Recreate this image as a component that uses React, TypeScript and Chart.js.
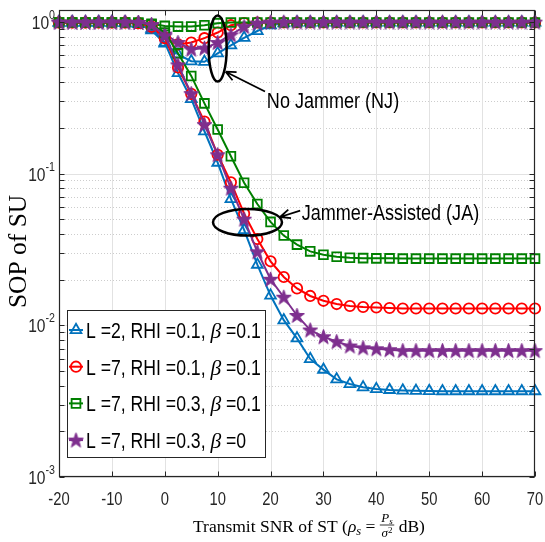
import React, { useEffect, useRef } from 'react';
import { Chart, registerables } from 'chart.js';
import { drawPoint } from 'chart.js/helpers';

Chart.register(...registerables);

// ---------------- data ----------------
const snrDb = [-20, -17.5, -15, -12.5, -10, -7.5, -5, -2.5, 0, 2.5, 5, 7.5, 10, 12.5, 15, 17.5, 20, 22.5, 25, 27.5, 30, 32.5, 35, 37.5, 40, 42.5, 45, 47.5, 50, 52.5, 55, 57.5, 60, 62.5, 65, 67.5, 70];

// Jammer-Assisted (JA)
const jaL2R01B01 = [0.99, 0.99, 0.99, 0.99, 0.99, 0.985, 0.97, 0.90, 0.73, 0.46, 0.31, 0.19, 0.118, 0.068, 0.0425, 0.0251, 0.0157, 0.0108, 0.0082, 0.0060, 0.0051, 0.0044, 0.0041, 0.0039, 0.0038, 0.00375, 0.00372, 0.0037, 0.00369, 0.00368, 0.00368, 0.00368, 0.00368, 0.00368, 0.00368, 0.00368, 0.00368];
const jaL7R01B01 = [0.99, 0.99, 0.99, 0.99, 0.99, 0.99, 0.98, 0.93, 0.78, 0.50, 0.335, 0.22, 0.133, 0.0875, 0.0544, 0.037, 0.0264, 0.0208, 0.0175, 0.0156, 0.0145, 0.0138, 0.0134, 0.0132, 0.0131, 0.0130, 0.0129, 0.0129, 0.0129, 0.0129, 0.0129, 0.0129, 0.0129, 0.0129, 0.0129, 0.0129, 0.0129];
const jaL7R03B01 = [0.99, 0.99, 0.99, 0.99, 0.99, 0.99, 0.985, 0.96, 0.85, 0.62, 0.44, 0.29, 0.195, 0.13, 0.087, 0.063, 0.048, 0.039, 0.034, 0.0307, 0.0292, 0.0283, 0.0279, 0.0277, 0.0276, 0.0276, 0.0275, 0.0275, 0.0275, 0.0275, 0.0275, 0.0275, 0.0275, 0.0275, 0.0275, 0.0275, 0.0275];
const jaL7R03B0 = [0.995, 0.995, 0.995, 0.995, 0.995, 0.995, 0.99, 0.96, 0.81, 0.52, 0.336, 0.21, 0.133, 0.080, 0.050, 0.0305, 0.0201, 0.0153, 0.0116, 0.0093, 0.0084, 0.0078, 0.0073, 0.0071, 0.0070, 0.0069, 0.0068, 0.0068, 0.0068, 0.0068, 0.0068, 0.0068, 0.0068, 0.0068, 0.0068, 0.0068, 0.0068];

// No Jammer (NJ)
const njL2R01B01 = [0.99, 0.99, 0.99, 0.99, 0.99, 0.985, 0.97, 0.88, 0.72, 0.61, 0.55, 0.545, 0.62, 0.70, 0.785, 0.87, 0.95, 0.98, 0.99, 0.99, 0.99, 0.99, 0.99, 0.99, 0.99, 0.99, 0.99, 0.99, 0.99, 0.99, 0.99, 0.99, 0.99, 0.99, 0.99, 0.99, 0.99];
const njL7R01B01 = [0.99, 0.99, 0.99, 0.99, 0.99, 0.99, 0.98, 0.92, 0.79, 0.71, 0.73, 0.78, 0.85, 0.95, 0.98, 0.99, 0.99, 0.99, 0.99, 0.99, 0.99, 0.99, 0.99, 0.99, 0.99, 0.99, 0.99, 0.99, 0.99, 0.99, 0.99, 0.99, 0.99, 0.99, 0.99, 0.99, 0.99];
const njL7R03B01 = [0.99, 0.99, 0.99, 0.99, 0.99, 0.99, 0.985, 0.97, 0.94, 0.93, 0.93, 0.95, 0.98, 0.99, 0.99, 0.99, 0.99, 0.99, 0.99, 0.99, 0.99, 0.99, 0.99, 0.99, 0.99, 0.99, 0.99, 0.99, 0.99, 0.99, 0.99, 0.99, 0.99, 0.99, 0.99, 0.99, 0.99];
const njL7R03B0 = [0.995, 0.995, 0.995, 0.995, 0.995, 0.995, 0.99, 0.95, 0.83, 0.73, 0.66, 0.67, 0.73, 0.82, 0.93, 0.98, 0.995, 0.995, 0.995, 0.995, 0.995, 0.995, 0.995, 0.995, 0.995, 0.995, 0.995, 0.995, 0.995, 0.995, 0.995, 0.995, 0.995, 0.995, 0.995, 0.995, 0.995];

const xTickValues = [-20, -10, 0, 10, 20, 30, 40, 50, 60, 70];
const xTickLabels = ['-20', '-10', '0', '10', '20', '30', '40', '50', '60', '70'];
const yDecades = [1, 0.1, 0.01, 0.001];
const yDecadeExponents = ['0', '-1', '-2', '-3'];
const yMinor = [0.002, 0.003, 0.004, 0.005, 0.006, 0.007, 0.008, 0.009, 0.02, 0.03, 0.04, 0.05, 0.06, 0.07, 0.08, 0.09, 0.2, 0.3, 0.4, 0.5, 0.6, 0.7, 0.8, 0.9];

const legendTexts = [
  ['L =2, RHI =0.1, ', 'β', ' =0.1'],
  ['L =7, RHI =0.1, ', 'β', ' =0.1'],
  ['L =7, RHI =0.3, ', 'β', ' =0.1'],
  ['L =7, RHI =0.3, ', 'β', ' =0'],
];

const BLUE = '#0072BD';
const RED = '#FF0000';
const GREEN = '#008000';
const PURPLE = '#7E2F8E';

// ---------------- text helpers ----------------
let narrowOK: boolean | null = null;
function hasNarrow(ctx: CanvasRenderingContext2D) {
  if (narrowOK === null) {
    ctx.save();
    ctx.font = '40px "Liberation Sans Narrow", monospace';
    const a = ctx.measureText('abcdefghijklmnop').width;
    ctx.font = '40px monospace';
    const b = ctx.measureText('abcdefghijklmnop').width;
    ctx.restore();
    narrowOK = Math.abs(a - b) > 1;
  }
  return narrowOK;
}

type Run = { t: string; size: number; fam: 'sans' | 'serif'; italic?: boolean; dy?: number };

function runFont(r: Run, narrow: boolean) {
  const fam = r.fam === 'serif'
    ? '"Liberation Serif", "DejaVu Serif", serif'
    : narrow ? '"Liberation Sans Narrow", "Liberation Sans", sans-serif' : '"Liberation Sans", Arial, sans-serif';
  return `${r.italic ? 'italic ' : ''}${r.size}px ${fam}`;
}
function runScale(r: Run, narrow: boolean) {
  return r.fam === 'sans' && !narrow ? 0.82 : 1;
}
function measureRuns(ctx: CanvasRenderingContext2D, runs: Run[]) {
  const narrow = hasNarrow(ctx);
  ctx.save();
  const w = runs.map((r) => { ctx.font = runFont(r, narrow); return ctx.measureText(r.t).width * runScale(r, narrow); });
  ctx.restore();
  return w;
}
function drawRuns(ctx: CanvasRenderingContext2D, runs: Run[], x: number, y: number, align: 'left' | 'center' | 'right', color = '#000') {
  const narrow = hasNarrow(ctx);
  const widths = measureRuns(ctx, runs);
  const total = widths.reduce((a, b) => a + b, 0);
  let cx = align === 'left' ? x : align === 'center' ? x - total / 2 : x - total;
  ctx.save();
  ctx.fillStyle = color;
  ctx.textBaseline = 'alphabetic';
  ctx.textAlign = 'left';
  runs.forEach((r, i) => {
    ctx.save();
    ctx.font = runFont(r, narrow);
    ctx.translate(cx, y + (r.dy || 0));
    ctx.scale(runScale(r, narrow), 1);
    ctx.fillText(r.t, 0, 0);
    ctx.restore();
    cx += widths[i];
  });
  ctx.restore();
  return total;
}

function makeStar(color: string, size = 17) {
  const c = document.createElement('canvas');
  c.width = size; c.height = size;
  const g = c.getContext('2d')!;
  const cx = size / 2, cy = size / 2 + 0.5;
  const R = size / 2 - 0.6, r = R * 0.4;
  g.beginPath();
  for (let i = 0; i < 10; i++) {
    const ang = -Math.PI / 2 + (i * Math.PI) / 5;
    const rad = i % 2 === 0 ? R : r;
    const px = cx + rad * Math.cos(ang), py = cy + rad * Math.sin(ang);
    if (i === 0) g.moveTo(px, py); else g.lineTo(px, py);
  }
  g.closePath();
  g.fillStyle = color; g.fill();
  g.strokeStyle = color; g.lineWidth = 1; g.stroke();
  return c;
}

function arrow(ctx: CanvasRenderingContext2D, x1: number, y1: number, x2: number, y2: number) {
  ctx.beginPath();
  ctx.moveTo(x1, y1); ctx.lineTo(x2, y2);
  const ang = Math.atan2(y2 - y1, x2 - x1);
  for (const s of [-1, 1]) {
    const a = ang + Math.PI + s * 0.42;
    ctx.moveTo(x2, y2);
    ctx.lineTo(x2 + 11 * Math.cos(a), y2 + 11 * Math.sin(a));
  }
  ctx.stroke();
}

export default function App() {
  const ref = useRef<HTMLCanvasElement>(null);
  useEffect(() => {
    const canvas = ref.current!;
    const star = makeStar(PURPLE);
    const styles = [
      { color: BLUE, pointStyle: 'triangle' as any, radius: 6.2 },
      { color: RED, pointStyle: 'circle' as any, radius: 5.2 },
      { color: GREEN, pointStyle: 'rect' as any, radius: 6.2 },
      { color: PURPLE, pointStyle: star as any, radius: 8 },
    ];
    const series = [
      { label: 'NJ L=2 RHI=0.1 b=0.1', vals: njL2R01B01, s: 0 },
      { label: 'NJ L=7 RHI=0.1 b=0.1', vals: njL7R01B01, s: 1 },
      { label: 'NJ L=7 RHI=0.3 b=0.1', vals: njL7R03B01, s: 2 },
      { label: 'NJ L=7 RHI=0.3 b=0', vals: njL7R03B0, s: 3 },
      { label: 'JA L=2 RHI=0.1 b=0.1', vals: jaL2R01B01, s: 0 },
      { label: 'JA L=7 RHI=0.1 b=0.1', vals: jaL7R01B01, s: 1 },
      { label: 'JA L=7 RHI=0.3 b=0.1', vals: jaL7R03B01, s: 2 },
      { label: 'JA L=7 RHI=0.3 b=0', vals: jaL7R03B0, s: 3 },
    ];
    const datasets = series.map((d, i) => {
      const st = styles[d.s];
      return {
        label: d.label,
        data: snrDb.map((x, k) => ({ x, y: d.vals[k] })),
        borderColor: st.color,
        backgroundColor: 'rgba(0,0,0,0)',
        borderWidth: 2,
        pointStyle: st.pointStyle,
        pointRadius: st.radius,
        pointBorderWidth: 1.8,
        pointBorderColor: st.color,
        pointBackgroundColor: d.s === 3 ? st.color : 'rgba(0,0,0,0)',
        tension: 0,
        clip: false as any,
        order: series.length - i,
      };
    });

    const plugin = {
      id: 'matlabLook',
      beforeDraw(chart: any) {
        const { ctx } = chart;
        ctx.save();
        ctx.fillStyle = '#ffffff';
        ctx.fillRect(0, 0, chart.width, chart.height);
        ctx.restore();
      },
      beforeDatasetsDraw(chart: any) {
        const { ctx, chartArea: a, scales } = chart;
        const xs = scales.x, ys = scales.y;
        ctx.save();
        ctx.lineWidth = 1;
        ctx.strokeStyle = '#cdcdcd';
        ctx.setLineDash([1, 2]);
        for (const v of yMinor) {
          const py = Math.round(ys.getPixelForValue(v)) + 0.5;
          ctx.beginPath(); ctx.moveTo(a.left, py); ctx.lineTo(a.right, py); ctx.stroke();
        }
        ctx.setLineDash([]);
        ctx.strokeStyle = '#e2e2e2';
        for (const v of xTickValues.slice(1, -1)) {
          const px = Math.round(xs.getPixelForValue(v)) + 0.5;
          ctx.beginPath(); ctx.moveTo(px, a.top); ctx.lineTo(px, a.bottom); ctx.stroke();
        }
        for (const v of yDecades) {
          const py = Math.round(ys.getPixelForValue(v)) + 0.5;
          ctx.beginPath(); ctx.moveTo(a.left, py); ctx.lineTo(a.right, py); ctx.stroke();
        }
        ctx.restore();
      },
      afterDatasetsDraw(chart: any) {
        const { ctx, chartArea: a, scales } = chart;
        const xs = scales.x, ys = scales.y;
        ctx.save();
        // axes box
        ctx.strokeStyle = '#262626';
        ctx.lineWidth = 1.2;
        const L = Math.round(a.left) + 0.5, R = Math.round(a.right) - 0.5;
        const T = Math.round(a.top) + 0.5, B = Math.round(a.bottom) - 0.5;
        ctx.strokeRect(L, T, R - L, B - T);
        // ticks
        ctx.lineWidth = 1;
        ctx.beginPath();
        for (const v of xTickValues) {
          const px = Math.round(xs.getPixelForValue(v)) + 0.5;
          ctx.moveTo(px, B); ctx.lineTo(px, B - 5);
          ctx.moveTo(px, T); ctx.lineTo(px, T + 5);
        }
        for (const v of [...yDecades, ...yMinor]) {
          const py = Math.round(ys.getPixelForValue(v)) + 0.5;
          ctx.moveTo(L, py); ctx.lineTo(L + 5, py);
          ctx.moveTo(R, py); ctx.lineTo(R - 5, py);
        }
        ctx.stroke();

        // tick labels
        xTickValues.forEach((v, i) => {
          const px = xs.getPixelForValue(v);
          drawRuns(ctx, [{ t: xTickLabels[i], size: 18, fam: 'sans' }], px, a.bottom + 28, 'center', '#262626');
        });
        yDecades.forEach((v, i) => {
          const py = ys.getPixelForValue(v);
          drawRuns(ctx, [
            { t: '10', size: 19, fam: 'sans', dy: 7 },
            { t: yDecadeExponents[i], size: 13, fam: 'sans', dy: -3 },
          ], a.left - 4, py, 'right', '#262626');
        });

        // axis titles
        ctx.save();
        ctx.translate(18, (a.top + a.bottom) / 2 + 8);
        ctx.rotate(-Math.PI / 2);
        drawRuns(ctx, [{ t: 'SOP of SU', size: 25.5, fam: 'serif' }], 0, 8, 'center');
        ctx.restore();

        const by = 532;
        const fs = 17.5;
        let cx = 193;
        cx += drawRuns(ctx, [{ t: 'Transmit SNR of ST (', size: fs, fam: 'serif' }], cx, by, 'left');
        cx += drawRuns(ctx, [{ t: 'ρ', size: fs, fam: 'serif', italic: true }, { t: 's', size: 12.5, fam: 'serif', italic: true, dy: 3 }], cx, by, 'left');
        cx += drawRuns(ctx, [{ t: ' = ', size: fs, fam: 'serif' }], cx, by, 'left');
        const numRuns: Run[] = [{ t: 'P', size: 13, fam: 'serif', italic: true }, { t: 's', size: 9, fam: 'serif', italic: true, dy: 2 }];
        const denRuns: Run[] = [{ t: 'σ', size: 13, fam: 'serif', italic: true }, { t: '2', size: 9, fam: 'serif', dy: -4 }];
        const nw = measureRuns(ctx, numRuns).reduce((p, q) => p + q, 0);
        const dw = measureRuns(ctx, denRuns).reduce((p, q) => p + q, 0);
        const fw = Math.max(nw, dw) + 3;
        drawRuns(ctx, numRuns, cx + fw / 2, by - 10, 'center');
        drawRuns(ctx, denRuns, cx + fw / 2, by + 5, 'center');
        ctx.strokeStyle = '#000'; ctx.lineWidth = 0.8;
        ctx.beginPath(); ctx.moveTo(cx, by - 7); ctx.lineTo(cx + fw, by - 7); ctx.stroke();
        cx += fw;
        drawRuns(ctx, [{ t: ' dB)', size: fs, fam: 'serif' }], cx, by, 'left');

        // annotations
        ctx.strokeStyle = '#000';
        ctx.lineWidth = 2.5;
        ctx.beginPath();
        ctx.ellipse(xs.getPixelForValue(10), ys.getPixelForValue(0.667), 9, 33, 0, 0, Math.PI * 2);
        ctx.stroke();
        ctx.beginPath();
        ctx.ellipse(xs.getPixelForValue(15.64), ys.getPixelForValue(0.0477), 34.5, 13.3, 0, 0, Math.PI * 2);
        ctx.stroke();
        ctx.lineWidth = 1.8;
        arrow(ctx, xs.getPixelForValue(18.95), ys.getPixelForValue(0.347), xs.getPixelForValue(11.5), ys.getPixelForValue(0.469));
        arrow(ctx, xs.getPixelForValue(25.6), ys.getPixelForValue(0.057), xs.getPixelForValue(21.8), ys.getPixelForValue(0.0517));
        drawRuns(ctx, [{ t: 'No Jammer (NJ)', size: 22, fam: 'sans' }], xs.getPixelForValue(19.3), ys.getPixelForValue(0.306) + 8, 'left');
        drawRuns(ctx, [{ t: 'Jammer-Assisted (JA)', size: 22, fam: 'sans' }], xs.getPixelForValue(25.9), ys.getPixelForValue(0.0556) + 8, 'left');

        // legend
        const lx = a.left + 8, lyBottom = a.bottom - 20, lw = 198, lh = 147;
        const ly = lyBottom - lh;
        ctx.fillStyle = '#fff';
        ctx.fillRect(lx, ly, lw, lh);
        ctx.strokeStyle = '#262626';
        ctx.lineWidth = 1;
        ctx.strokeRect(Math.round(lx) + 0.5, Math.round(ly) + 0.5, lw, lh);
        legendTexts.forEach((parts, i) => {
          const st = styles[i];
          const rowY = ly + 20 + i * 36.7;
          ctx.strokeStyle = st.color;
          ctx.lineWidth = 2;
          ctx.beginPath(); ctx.moveTo(lx + 2, rowY); ctx.lineTo(lx + 16, rowY); ctx.stroke();
          ctx.fillStyle = i === 3 ? st.color : 'rgba(0,0,0,0)';
          ctx.lineWidth = 1.8;
          ctx.strokeStyle = st.color;
          drawPoint(ctx, { pointStyle: st.pointStyle, radius: st.radius, rotation: 0, borderWidth: 1.8 } as any, lx + 9, rowY);
          drawRuns(ctx, [
            { t: parts[0], size: 21.5, fam: 'sans' },
            { t: parts[1], size: 21.5, fam: 'serif', italic: true },
            { t: parts[2], size: 21.5, fam: 'sans' },
          ], lx + 19, rowY + 8, 'left');
        });
        ctx.restore();
      },
    };

    const chart = new Chart(canvas, {
      type: 'line',
      data: { datasets: datasets as any },
      options: {
        animation: false,
        responsive: false,
        devicePixelRatio: 1,
        events: [],
        layout: { padding: { left: 0, right: 10, top: 5, bottom: 0 } },
        plugins: { legend: { display: false }, tooltip: { enabled: false } },
        scales: {
          x: {
            type: 'linear', min: -20, max: 70, bounds: 'data',
            ticks: { display: false },
            grid: { display: false },
            border: { display: false },
            afterFit: (s: any) => { s.height = 65; },
          },
          y: {
            type: 'logarithmic', min: 0.001, max: 1.2, bounds: 'data',
            ticks: { display: false },
            grid: { display: false },
            border: { display: false },
            afterFit: (s: any) => { s.width = 59; },
          },
        },
      } as any,
      plugins: [plugin],
    });
    return () => chart.destroy();
  }, []);
  return (
    <div style={{ position: 'fixed', left: 0, top: 0, width: 545, height: 542, background: '#fff' }}>
      <canvas ref={ref} width={545} height={542} style={{ display: 'block', width: 545, height: 542 }} />
    </div>
  );
}
